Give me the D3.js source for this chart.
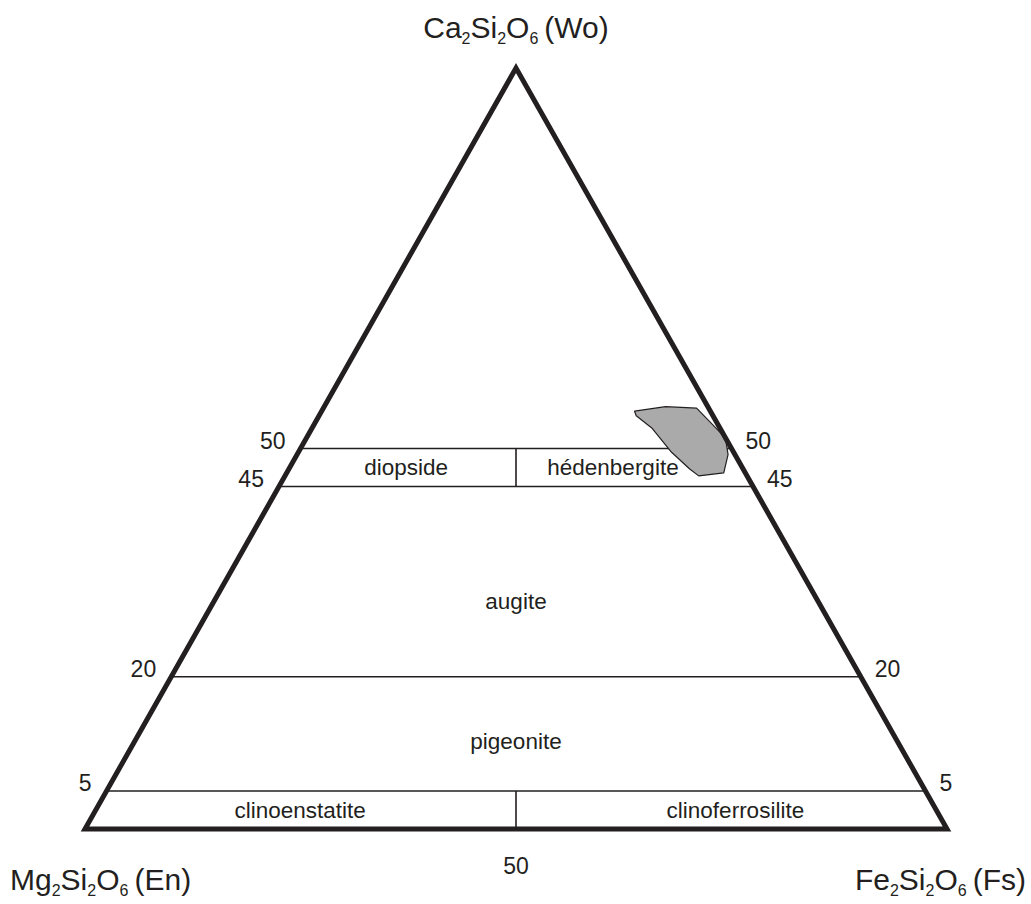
<!DOCTYPE html>
<html>
<head>
<meta charset="utf-8">
<script src="https://cdn.jsdelivr.net/npm/d3@7"></script>
<style>
  body { margin: 0; background: #ffffff; }
  text { font-family: "Liberation Sans", Arial, sans-serif; fill: #231f20; }
</style>
</head>
<body>
<svg id="chart" width="1031" height="904"></svg>
<script>
// Wo (mol %) boundaries of the pyroxene fields and their tick labels
const woBoundaries = [50, 45, 20, 5];
const woTickLabels = ["50", "45", "20", "5"];
// En–Fs divide (Fs / (En + Fs), %) and the bands it splits
const fsDivide = 50;
const dividedBands = [[45, 50], [0, 5]];
const baseTickLabel = "50";

// field names and their label positions in composition space (Wo, Fs)
const fieldNames = ["diopside", "hédenbergite", "augite", "pigeonite", "clinoenstatite", "clinoferrosilite"];
const fieldWo = [47.5, 47.5, 30, 11.5, 2.5, 2.5];
const fieldFs = [13.5, 37.5, 35, 44.25, 23.7, 74.2];

// outline of the analysed pyroxene compositions (Wo, Fs)
const sampleWo = [54.9, 55.5, 55.3, 51.4, 49.2, 46.8, 46.4, 47.3, 49.5, 52.7, 54.3];
const sampleFs = [36.3, 39.6, 43.3, 48.6, 50.0, 50.7, 48.0, 46.5, 43.3, 39.4, 36.8];

// end-member labels: [text, isSubscript]
const woLabel = [["Ca", false], ["2", true], ["Si", false], ["2", true], ["O", false], ["6", true], ["\u2009(Wo)", false]];
const enLabel = [["Mg", false], ["2", true], ["Si", false], ["2", true], ["O", false], ["6", true], ["\u2009(En)", false]];
const fsLabel = [["Fe", false], ["2", true], ["Si", false], ["2", true], ["O", false], ["6", true], ["\u2009(Fs)", false]];

const svg = d3.select("#chart");
const ink = "#231f20";

// ternary frame: horizontal position along the base, vertical by Wo
const xScale = d3.scaleLinear().domain([0, 100]).range([85, 947]);
const yScale = d3.scaleLinear().domain([0, 100]).range([829, 68]);

// composition (Wo, Fs) -> screen point
function tern(wo, fs) {
  return [xScale(fs + wo / 2), yScale(wo)];
}
// left / right edge of the triangle at a given Wo
const leftEdge = wo => tern(wo, 0);
const rightEdge = wo => tern(wo, 100 - wo);

// field boundaries
const gLines = svg.append("g");
gLines.selectAll("line.wo")
  .data(woBoundaries)
  .join("line")
  .attr("class", "wo")
  .attr("x1", d => leftEdge(d)[0]).attr("y1", d => leftEdge(d)[1])
  .attr("x2", d => rightEdge(d)[0]).attr("y2", d => rightEdge(d)[1])
  .attr("stroke", ink).attr("stroke-width", 1.6);

gLines.selectAll("line.div")
  .data(dividedBands)
  .join("line")
  .attr("class", "div")
  .attr("x1", d => tern(d[0], (100 - d[0]) * fsDivide / 100)[0])
  .attr("y1", d => tern(d[0], (100 - d[0]) * fsDivide / 100)[1])
  .attr("x2", d => tern(d[1], (100 - d[1]) * fsDivide / 100)[0])
  .attr("y2", d => tern(d[1], (100 - d[1]) * fsDivide / 100)[1])
  .attr("stroke", ink).attr("stroke-width", 1.6);

// sample composition field
const samplePts = sampleWo.map((w, i) => tern(w, sampleFs[i]));
svg.append("path")
  .attr("d", d3.line().curve(d3.curveLinearClosed)(samplePts))
  .attr("fill", "#aaaaaa")
  .attr("stroke", ink)
  .attr("stroke-width", 1.2)
  .attr("stroke-linejoin", "round");

// triangle outline
const corners = [tern(0, 0), tern(0, 100), tern(100, 0)];
svg.append("path")
  .attr("d", d3.line().curve(d3.curveLinearClosed)(corners))
  .attr("fill", "none")
  .attr("stroke", ink)
  .attr("stroke-width", 5)
  .attr("stroke-linejoin", "miter");

// Wo tick labels on both sides
const tickSize = 23;
svg.selectAll("text.tickL")
  .data(woBoundaries)
  .join("text")
  .attr("class", "tickL")
  .attr("x", d => leftEdge(d)[0] - 15)
  .attr("y", d => leftEdge(d)[1])
  .attr("text-anchor", "end")
  .attr("font-size", tickSize)
  .text((d, i) => woTickLabels[i]);

svg.selectAll("text.tickR")
  .data(woBoundaries)
  .join("text")
  .attr("class", "tickR")
  .attr("x", d => rightEdge(d)[0] + 14)
  .attr("y", d => rightEdge(d)[1])
  .attr("text-anchor", "start")
  .attr("font-size", tickSize)
  .text((d, i) => woTickLabels[i]);

svg.append("text")
  .attr("x", tern(0, fsDivide)[0])
  .attr("y", tern(0, fsDivide)[1] + 45)
  .attr("text-anchor", "middle")
  .attr("font-size", tickSize)
  .text(baseTickLabel);

// field names
svg.selectAll("text.field")
  .data(fieldNames)
  .join("text")
  .attr("class", "field")
  .attr("x", (d, i) => tern(fieldWo[i], fieldFs[i])[0])
  .attr("y", (d, i) => tern(fieldWo[i], fieldFs[i])[1])
  .attr("dy", "0.35em")
  .attr("text-anchor", "middle")
  .attr("font-size", 22.5)
  .text(d => d);

// end-member labels with subscripts
function chemLabel(parts, x, y, anchor) {
  const t = svg.append("text")
    .attr("x", x).attr("y", y)
    .attr("text-anchor", anchor)
    .attr("font-size", 30);
  let shifted = false;
  parts.forEach(([s, sub]) => {
    const span = t.append("tspan").text(s);
    if (sub) {
      span.attr("font-size", 16).attr("dy", shifted ? 0 : 6);
      shifted = true;
    } else {
      span.attr("dy", shifted ? -6 : 0);
      shifted = false;
    }
  });
}
const apex = tern(100, 0);
chemLabel(woLabel, apex[0], 38, "middle");
chemLabel(enLabel, 10, 890, "start");
chemLabel(fsLabel, 1026, 890, "end");
</script>
</body>
</html>
